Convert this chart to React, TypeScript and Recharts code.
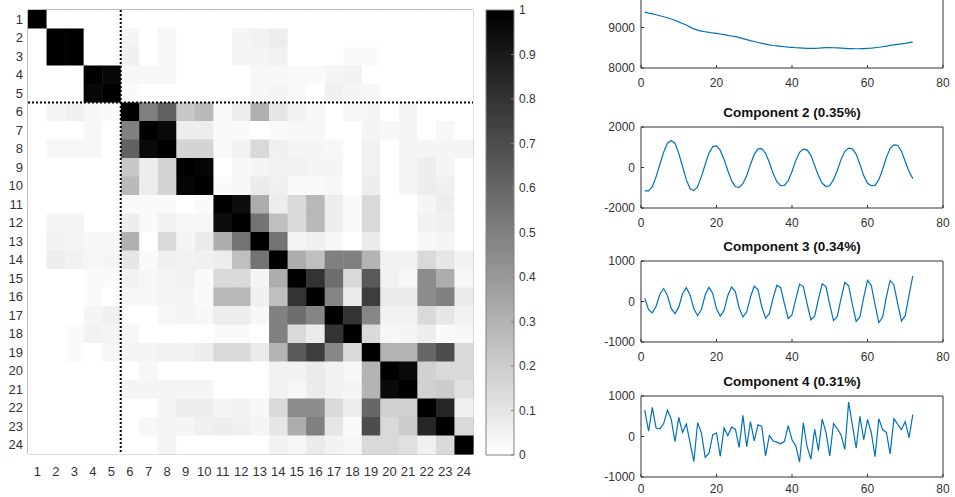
import React from 'react'
import { ScatterChart, Scatter, XAxis, YAxis, BarChart, Bar, LineChart, Line } from 'recharts'

// heatmap tick labels (row / column indices)
const idx = [1, 2, 3, 4, 5, 6, 7, 8, 9, 10, 11, 12, 13, 14, 15, 16, 17, 18, 19, 20, 21, 22, 23, 24]

// lower triangle of the similarity matrix (row i holds cols 1..i)
const corrLower: number[][] = [
  [1],
  [0, 1],
  [0, 1, 1],
  [0, 0, 0, 1],
  [0, 0, 0, 0.97, 1],
  [0, 0.04, 0.06, 0.03, 0.02, 1],
  [0, 0, 0, 0.03, 0, 0.5, 1],
  [0, 0.03, 0.03, 0.03, 0, 0.62, 0.96, 1],
  [0, 0, 0, 0, 0, 0.22, 0.07, 0.17, 1],
  [0, 0, 0, 0, 0, 0.27, 0.07, 0.17, 0.98, 1],
  [0, 0, 0, 0, 0, 0.02, 0.02, 0.02, 0, 0.02, 1],
  [0, 0.04, 0.04, 0, 0, 0.07, 0.02, 0.05, 0.03, 0.03, 0.95, 1],
  [0, 0.05, 0.04, 0.03, 0.03, 0.31, 0, 0.15, 0.04, 0.08, 0.32, 0.55, 1],
  [0, 0.07, 0.05, 0.03, 0.04, 0.1, 0.02, 0.06, 0.05, 0.06, 0.07, 0.25, 0.55, 1],
  [0, 0, 0, 0.02, 0.02, 0.05, 0.03, 0.04, 0.05, 0.02, 0.15, 0.15, 0.04, 0.32, 1],
  [0, 0, 0, 0.02, 0, 0.03, 0.03, 0.04, 0.04, 0.02, 0.28, 0.28, 0.06, 0.25, 0.8, 1],
  [0, 0, 0, 0.04, 0.06, 0, 0, 0.03, 0.04, 0.03, 0.07, 0.07, 0.03, 0.5, 0.57, 0.48, 1],
  [0, 0, 0.02, 0.05, 0.04, 0.03, 0, 0, 0, 0, 0.02, 0.02, 0, 0.5, 0.15, 0.08, 0.8, 1],
  [0, 0, 0.02, 0, 0.03, 0.04, 0.04, 0.05, 0.05, 0.07, 0.15, 0.15, 0.08, 0.3, 0.65, 0.76, 0.47, 0.15, 1],
  [0, 0, 0, 0, 0, 0, 0.03, 0, 0, 0, 0, 0, 0, 0.05, 0.05, 0.08, 0.05, 0.03, 0.3, 1],
  [0, 0, 0, 0, 0, 0.04, 0.04, 0.04, 0.04, 0.04, 0, 0, 0, 0.05, 0.03, 0.08, 0.05, 0.04, 0.3, 0.96, 1],
  [0, 0, 0, 0, 0, 0, 0, 0.04, 0.07, 0.07, 0.04, 0.05, 0.03, 0.15, 0.45, 0.45, 0.15, 0.07, 0.6, 0.18, 0.18, 1],
  [0, 0, 0, 0, 0, 0, 0.03, 0.04, 0.04, 0.06, 0.07, 0.06, 0.04, 0.1, 0.32, 0.5, 0.1, 0.02, 0.7, 0.15, 0.2, 0.85, 1],
  [0, 0, 0, 0, 0, 0, 0, 0.04, 0, 0, 0, 0, 0, 0.05, 0.03, 0.08, 0.05, 0.03, 0.15, 0.15, 0.12, 0.06, 0.15, 1],
]

// block separator (between item 5 and 6) on both axes
const splitAt = 5.5
const axisRange: [number, number] = [0.5, 24.5]

const colorbarTicks = [0, 0.1, 0.2, 0.3, 0.4, 0.5, 0.6, 0.7, 0.8, 0.9, 1]

// component time series (t = 1..72)
const comp1 = [
  9380, 9355, 9335, 9315, 9290, 9265, 9240, 9210, 9180, 9140,
  9100, 9060, 9010, 8965, 8935, 8910, 8895, 8880, 8865, 8855,
  8840, 8825, 8805, 8790, 8775, 8750, 8725, 8700, 8675, 8655,
  8630, 8610, 8590, 8570, 8555, 8545, 8535, 8525, 8515, 8508,
  8500, 8495, 8490, 8486, 8484, 8485, 8490, 8498, 8505, 8505,
  8500, 8495, 8490, 8485, 8480, 8477, 8475, 8476, 8480, 8485,
  8490, 8500, 8512, 8525, 8540, 8557, 8572, 8585, 8598, 8610,
  8625, 8640,
]
const comp2 = [
  -1150, -1150, -950, -450, 150, 750, 1200, 1330, 1200, 700,
  50, -600, -1050, -1140, -950, -450, 150, 700, 1030, 1070,
  850, 400, -150, -650, -950, -980, -800, -400, 150, 650,
  920, 930, 700, 250, -300, -700, -900, -880, -650, -200,
  350, 750, 910, 870, 600, 100, -400, -780, -940, -900,
  -600, -150, 400, 800, 960, 920, 650, 150, -400, -780,
  -900, -880, -600, -100, 500, 950, 1120, 1100, 800, 300,
  -200, -550,
]
const comp3 = [
  80, -200, -280, -120, 180, 320, 150, -170, -300, -140,
  190, 340, 160, -180, -350, -200, 160, 350, 200, -180,
  -360, -220, 150, 360, 240, -160, -380, -260, 110, 380,
  290, -130, -410, -300, 90, 400, 340, -60, -420, -330,
  60, 430, 370, -50, -450, -360, 60, 440, 370, -80,
  -470, -370, 80, 470, 390, -80, -490, -380, 100, 520,
  400, -80, -520, -390, 120, 520, 410, -60, -480, -350,
  150, 630,
]
const comp4 = [
  650, 130, 720, 210, 190, 320, 650, 430, -130, 470,
  100, 310, -160, -620, 340, 90, -510, -420, 40, 90,
  -490, 210, 25, 230, 180, -270, 520, -250, 370, -110,
  290, 250, -480, 25, -110, -140, -180, -120, 270, -80,
  -230, -630, 340, -250, -560, 180, -350, 430, 100, -480,
  320, 190, 40, -320, 850, 280, -290, 500, -80, 420,
  100, -500, 440, 170, 100, -430, 440, 300, 170, 370,
  -30, 540,
]
const xTicks = [0, 20, 40, 60, 80]

const FONT = '"Liberation Sans", Arial, Helvetica, sans-serif'
const TXT = '#333'
const LINE_BLUE = '#0072BD'

// heatmap geometry
const HM_W = 480
const HM_H = 480
const HM_MARGIN = { top: 9, right: 6, bottom: 0, left: 0 }
const HM_YAXIS_W = 28
const HM_XAXIS_H = 26
const cellW = (HM_W - HM_MARGIN.left - HM_MARGIN.right - HM_YAXIS_W - 1) / 24
const cellH = (HM_H - HM_MARGIN.top - HM_XAXIS_H - 1) / 24

const cells = idx.flatMap(r =>
  idx.map(c => ({
    x: c,
    y: r,
    v: r >= c ? corrLower[r - 1][c - 1] : corrLower[c - 1][r - 1],
  }))
)
const vSplit = [{ x: splitAt, y: axisRange[0] }, { x: splitAt, y: axisRange[1] }]
const hSplit = [{ x: axisRange[0], y: splitAt }, { x: axisRange[1], y: splitAt }]

function gray(v: number) {
  const g = Math.round(255 * (1 - v))
  return `rgb(${g},${g},${g})`
}

function HeatCell(props: any) {
  const { cx, cy, payload } = props
  return (
    <rect
      x={cx - cellW / 2}
      y={cy - cellH / 2}
      width={cellW + 0.5}
      height={cellH + 0.5}
      fill={gray(payload.v)}
    />
  )
}

const NoPoint = () => <g />
const dotted = { stroke: '#000', strokeWidth: 2, strokeDasharray: '2 2' }

function Heatmap() {
  const tick = { fill: TXT, fontSize: 13 }
  return (
    <ScatterChart width={HM_W} height={HM_H} margin={HM_MARGIN}>
      <Scatter data={cells} shape={HeatCell} isAnimationActive={false} />
      <Scatter data={vSplit} line={dotted} lineType="joint" shape={NoPoint} isAnimationActive={false} />
      <Scatter data={hSplit} line={dotted} lineType="joint" shape={NoPoint} isAnimationActive={false} />
      <XAxis type="number" dataKey="x" domain={axisRange} ticks={idx} interval={0}
        height={HM_XAXIS_H} tickLine={false} tickSize={0} tickMargin={13} stroke="#808080" tick={tick} />
      <XAxis xAxisId="top" orientation="top" type="number" domain={axisRange} height={1}
        tick={false} tickLine={false} stroke="#808080" />
      <YAxis type="number" dataKey="y" domain={axisRange} reversed ticks={idx} interval={0}
        width={HM_YAXIS_W} tickLine={false} tickSize={0} tickMargin={5} stroke="#808080" tick={tick} />
      <YAxis yAxisId="right" orientation="right" type="number" domain={axisRange} width={1}
        tick={false} tickLine={false} stroke="#808080" />
    </ScatterChart>
  )
}

function Colorbar() {
  return (
    <BarChart width={90} height={480} data={[{ name: 'cb', v: 1 }]}
      margin={{ top: 10, right: 0, bottom: 25, left: 6 }} barCategoryGap={0}>
      <defs>
        <linearGradient id="cbGrad" x1="0" y1="0" x2="0" y2="1">
          <stop offset="0" stopColor="#000" />
          <stop offset="1" stopColor="#fff" />
        </linearGradient>
      </defs>
      <XAxis dataKey="name" hide />
      <YAxis orientation="right" domain={[0, 1]} ticks={colorbarTicks} interval={0} width={56}
        axisLine={false} tickSize={-3} tickMargin={8} stroke="#808080" tick={{ fill: TXT, fontSize: 12 }} />
      <Bar dataKey="v" fill="url(#cbGrad)" stroke="#808080" isAnimationActive={false} />
    </BarChart>
  )
}

interface CompProps {
  top: number
  title?: string
  values: number[]
  domain: [number, number]
  yTicks: number[]
  xLabelGap?: number
}

const CP_TOP = 10

function ComponentPlot({ top, title, values, domain, yTicks, xLabelGap = 13 }: CompProps) {
  const data = values.map((v, i) => ({ t: i + 1, v }))
  const tick = { fill: TXT, fontSize: 12 }
  return (
    <div style={{ position: 'absolute', left: 570, top, width: 385, height: 114 }}>
      {title && (
        <div style={{
          position: 'absolute', left: 71, width: 302, top: CP_TOP - 22, textAlign: 'center',
          fontWeight: 'bold', fontSize: 13.5, lineHeight: '16px', color: '#111',
        }}>
          {title}
        </div>
      )}
      <LineChart width={385} height={114} data={data} margin={{ top: CP_TOP - 1, right: 11, bottom: 0, left: 0 }}>
        <XAxis type="number" dataKey="t" domain={[0, 80]} ticks={xTicks} interval={0} height={23}
          tickSize={-3} tickMargin={xLabelGap} stroke="#333" tick={tick} />
        <XAxis xAxisId="top" orientation="top" type="number" domain={[0, 80]} ticks={xTicks}
          height={1} tick={false} tickSize={-3} stroke="#333" />
        <YAxis domain={domain} ticks={yTicks} interval={0} width={71} tickSize={-3} tickMargin={9}
          stroke="#333" tick={tick} allowDataOverflow />
        <YAxis yAxisId="right" orientation="right" domain={domain} ticks={yTicks} width={1}
          tick={false} tickSize={-3} stroke="#333" />
        <Line dataKey="v" stroke={LINE_BLUE} strokeWidth={1.2} dot={false} isAnimationActive={false} />
      </LineChart>
    </div>
  )
}

export default function App() {
  return (
    <div style={{
      position: 'absolute', left: 0, top: 0, width: 955, height: 497, overflow: 'hidden',
      background: '#fff', fontFamily: FONT,
    }}>
      <div style={{ position: 'absolute', left: 0, top: 0 }}>
        <Heatmap />
      </div>
      <div style={{ position: 'absolute', left: 480, top: 0 }}>
        <Colorbar />
      </div>
      <ComponentPlot top={-13 - CP_TOP} values={comp1} domain={[8000, 10000]} yTicks={[8000, 9000]} />
      <ComponentPlot top={127 - CP_TOP} title="Component 2 (0.35%)" values={comp2} domain={[-2000, 2000]} yTicks={[-2000, 0, 2000]} />
      <ComponentPlot top={261 - CP_TOP} title="Component 3 (0.34%)" values={comp3} domain={[-1000, 1000]} yTicks={[-1000, 0, 1000]} />
      <ComponentPlot top={396 - CP_TOP} title="Component 4 (0.31%)" values={comp4} domain={[-1000, 1000]} yTicks={[-1000, 0, 1000]} xLabelGap={10} />
    </div>
  )
}
